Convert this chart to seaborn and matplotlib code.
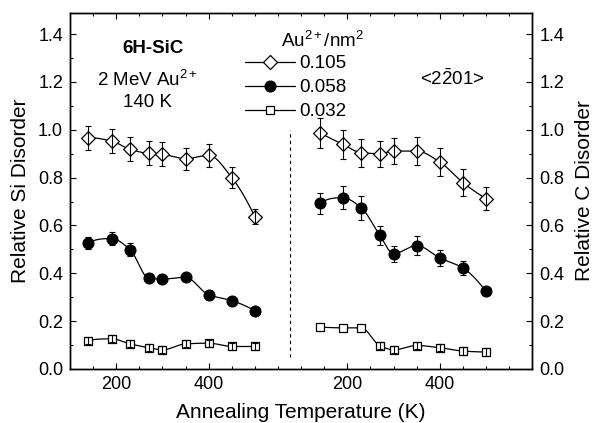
import numpy as np
import matplotlib
matplotlib.use("Agg")
import matplotlib.pyplot as plt
from matplotlib.lines import Line2D
from matplotlib.ticker import FixedLocator, MultipleLocator, FormatStrFormatter
import seaborn as sns

# Annealing temperatures (K), same for every series
temperature = [140, 190, 230, 270, 300, 350, 400, 450, 500]
fluence_labels = ["0.105", "0.058", "0.032"]

# Relative Si disorder (left block)
si_0105 = [0.967, 0.953, 0.918, 0.901, 0.897, 0.879, 0.893, 0.800, 0.636]
si_0105_err = [0.050, 0.050, 0.050, 0.050, 0.050, 0.046, 0.049, 0.044, 0.031]
si_0058 = [0.527, 0.545, 0.499, 0.380, 0.376, 0.383, 0.310, 0.286, 0.244]
si_0058_err = [0.026, 0.028, 0.028, 0.015, 0.015, 0.015, 0.015, 0.015, 0.012]
si_0032 = [0.119, 0.126, 0.105, 0.089, 0.080, 0.105, 0.108, 0.094, 0.094]
si_0032_err = [0.015, 0.015, 0.015, 0.015, 0.015, 0.015, 0.015, 0.015, 0.015]

# Relative C disorder (right block)
c_0105 = [0.988, 0.939, 0.904, 0.900, 0.911, 0.911, 0.865, 0.779, 0.712]
c_0105_err = [0.063, 0.060, 0.059, 0.055, 0.055, 0.059, 0.057, 0.055, 0.047]
c_0058 = [0.692, 0.716, 0.674, 0.559, 0.482, 0.516, 0.464, 0.422, 0.324]
c_0058_err = [0.044, 0.049, 0.050, 0.040, 0.034, 0.038, 0.035, 0.030, 0.020]
c_0032 = [0.175, 0.172, 0.172, 0.098, 0.080, 0.098, 0.089, 0.075, 0.071]
c_0032_err = [0.0, 0.0, 0.0, 0.015, 0.015, 0.015, 0.015, 0.015, 0.015]

x_tick_values = [200, 400]
C_SHIFT = 500  # the C block sits to the right on the same temperature scale


def pchip(x, y, num=300):
    """Shape-preserving cubic curve through the points."""
    x = np.asarray(x, float)
    y = np.asarray(y, float)
    n = len(x)
    h = np.diff(x)
    delta = np.diff(y) / h
    d = np.zeros(n)
    for k in range(1, n - 1):
        if delta[k - 1] * delta[k] > 0:
            w1 = 2 * h[k] + h[k - 1]
            w2 = h[k] + 2 * h[k - 1]
            d[k] = (w1 + w2) / (w1 / delta[k - 1] + w2 / delta[k])

    def end_slope(h0, h1, d0, d1):
        s = ((2 * h0 + h1) * d0 - h0 * d1) / (h0 + h1)
        if np.sign(s) != np.sign(d0):
            s = 0.0
        elif np.sign(d0) != np.sign(d1) and abs(s) > abs(3 * d0):
            s = 3 * d0
        return s

    d[0] = end_slope(h[0], h[1], delta[0], delta[1])
    d[-1] = end_slope(h[-1], h[-2], delta[-1], delta[-2])
    xs = np.linspace(x[0], x[-1], num)
    idx = np.clip(np.searchsorted(x, xs) - 1, 0, n - 2)
    hh = h[idx]
    t = (xs - x[idx]) / hh
    h00 = 2 * t**3 - 3 * t**2 + 1
    h10 = t**3 - 2 * t**2 + t
    h01 = -2 * t**3 + 3 * t**2
    h11 = t**3 - t**2
    ys = h00 * y[idx] + h10 * hh * d[idx] + h01 * y[idx + 1] + h11 * hh * d[idx + 1]
    return xs, ys


sns.set_theme(style="ticks")
plt.rcParams["font.family"] = ["Liberation Sans", "DejaVu Sans"]
plt.rcParams["mathtext.fontset"] = "custom"
plt.rcParams["mathtext.rm"] = "Liberation Sans"
plt.rcParams["mathtext.it"] = "Liberation Sans:italic"
plt.rcParams["mathtext.bf"] = "Liberation Sans:bold"
for key in ("text.color", "axes.labelcolor", "xtick.color", "ytick.color", "axes.edgecolor"):
    plt.rcParams[key] = "black"

FS_TICK = 13
FS_TEXT = 13.5
FS_LABEL = 15

fig = plt.figure(figsize=(5.96, 4.23), dpi=100)
ax = fig.add_axes([0.1174, 0.1277, 0.7757, 0.8427])

styles = {
    "0.105": dict(marker="D", face="white", ms=7.0),
    "0.058": dict(marker="o", face="black", ms=7.8),
    "0.032": dict(marker="s", face="white", ms=6.3),
}

series = [
    ("0.105", si_0105, si_0105_err, 0),
    ("0.058", si_0058, si_0058_err, 0),
    ("0.032", si_0032, si_0032_err, 0),
    ("0.105", c_0105, c_0105_err, C_SHIFT),
    ("0.058", c_0058, c_0058_err, C_SHIFT),
    ("0.032", c_0032, c_0032_err, C_SHIFT),
]

for label, vals, errs, shift in series:
    st = styles[label]
    xs_pts = np.asarray(temperature, float) + shift
    cx, cy = pchip(xs_pts, vals)
    sns.lineplot(x=cx, y=cy, color="black", linewidth=0.9, ax=ax, zorder=2)
    errs = np.asarray(errs)
    keep = errs > 0
    ax.errorbar(xs_pts[keep], np.asarray(vals)[keep], yerr=errs[keep], fmt="none",
                ecolor="black", elinewidth=0.8, capsize=2.5, capthick=0.8, zorder=4)
    sns.scatterplot(x=xs_pts, y=vals, marker=st["marker"], s=st["ms"] ** 2,
                    color=st["face"], edgecolor="black", linewidth=0.9, ax=ax, zorder=3)

# divider between the two blocks
ax.vlines(575, 0.05, 1.0, colors="black", linestyles=(0, (3, 3)), linewidth=0.8)

ax.set_xlim(100, 1100)
ax.set_ylim(0, 1.49)

major_x = x_tick_values + [v + C_SHIFT for v in x_tick_values]
minor_x = [v for v in range(150, 1100, 50) if v not in major_x]
ax.xaxis.set_major_locator(FixedLocator(major_x))
ax.set_xticklabels([str(v) for v in x_tick_values] * 2)
ax.xaxis.set_minor_locator(FixedLocator(minor_x))
ax.yaxis.set_major_locator(MultipleLocator(0.2))
ax.yaxis.set_minor_locator(MultipleLocator(0.1))
ax.yaxis.set_major_formatter(FormatStrFormatter("%.1f"))

ax2 = ax.twinx()
ax2.set_ylim(ax.get_ylim())
ax2.yaxis.set_major_locator(MultipleLocator(0.2))
ax2.yaxis.set_minor_locator(MultipleLocator(0.1))
ax2.yaxis.set_major_formatter(FormatStrFormatter("%.1f"))

ax.tick_params(which="both", direction="in", top=True, right=False, labelsize=FS_TICK,
               width=0.8, color="black", pad=5)
ax.tick_params(which="major", length=4)
ax.tick_params(which="minor", length=2.2)
ax2.tick_params(which="both", direction="in", labelsize=FS_TICK, width=0.8, color="black",
                pad=5)
ax2.tick_params(which="major", length=4)
ax2.tick_params(which="minor", length=2.2)

for a in (ax, ax2):
    for sp in a.spines.values():
        sp.set_visible(True)
        sp.set_linewidth(1.0)
        sp.set_color("black")

ax.set_xlabel("Annealing Temperature (K)", fontsize=FS_LABEL, labelpad=7)
ax.set_ylabel("Relative Si Disorder", fontsize=FS_LABEL, labelpad=6)
ax2.set_ylabel("Relative C Disorder", fontsize=FS_LABEL, labelpad=8)

# annotations
ax.text(0.179, 0.898, "6H-SiC", transform=ax.transAxes, ha="center", va="center",
        fontsize=FS_TEXT, fontweight="bold")
ax.text(0.168, 0.812, "2 MeV Au$^{2+}$", transform=ax.transAxes, ha="center", va="center",
        fontsize=FS_TEXT)
ax.text(0.168, 0.748, "140 K", transform=ax.transAxes, ha="center", va="center",
        fontsize=FS_TEXT)
ax.text(0.827, 0.814, r"<2$\mathrm{\bar{2}}$01>", transform=ax.transAxes, ha="center",
        va="center", fontsize=FS_TEXT)
ax.text(0.546, 0.921, "Au$^{2+}$/nm$^{2}$", transform=ax.transAxes, ha="center",
        va="center", fontsize=FS_TEXT)

handles = []
for label in fluence_labels:
    st = styles[label]
    handles.append(Line2D([0], [0], color="black", linewidth=0.9, marker=st["marker"],
                          markersize=st["ms"], markerfacecolor=st["face"],
                          markeredgecolor="black", markeredgewidth=0.9))
ax.legend(handles, fluence_labels, loc="upper left", bbox_to_anchor=(0.378, 0.880),
          frameon=False, fontsize=FS_TEXT, handlelength=2.7, handletextpad=0.2,
          labelspacing=0.36, borderpad=0, borderaxespad=0)

fig.savefig("out.png", dpi=100)
